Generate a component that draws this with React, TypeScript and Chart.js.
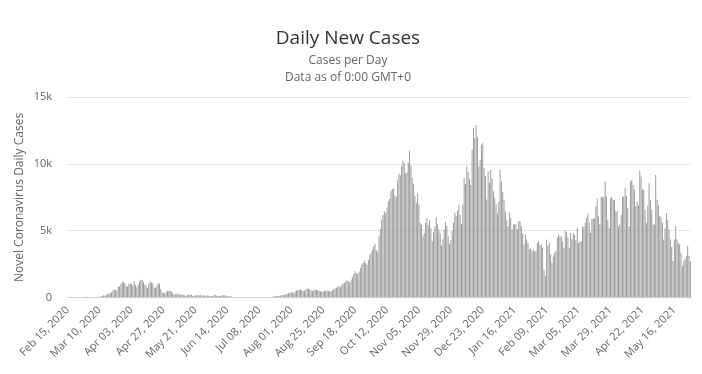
import React, { useEffect, useRef } from "react";
import { Chart, registerables } from "chart.js";

Chart.register(...registerables);

const startDate = "2020-02-15";
const tickEvery = 24;

const feb2020 = [0, 0, 0, 0, 0, 0, 0, 0, 0, 0, 0, 0, 1, 1, 4];
const mar2020 = [3, 8, 6, 20, 44, 46, 60, 77, 56, 61, 121, 111, 190, 155, 176, 278, 292, 346, 409, 534, 637, 573, 545, 811, 852, 1019, 1172, 1159, 1104, 884, 845];
const apr2020 = [1019, 1083, 1026, 904, 1224, 952, 777, 969, 1213, 1335, 1316, 1174, 964, 868, 734, 1061, 1235, 1140, 1066, 750, 729, 887, 1066, 1066, 655, 400, 380, 320, 445, 515];
const may2020 = [475, 514, 445, 335, 232, 253, 232, 319, 228, 218, 240, 192, 178, 123, 227, 196, 224, 199, 125, 138, 186, 165, 211, 162, 209, 155, 184, 140, 163, 167, 136];
const jun2020 = [113, 107, 137, 192, 218, 144, 146, 122, 107, 189, 186, 177, 153, 116, 112, 120, 98, 0, 0, 0, 0, 0, 0, 0, 0, 0, 0, 0, 0, 0];
const jul2020 = [0, 0, 0, 0, 0, 0, 0, 0, 0, 0, 0, 0, 0, 0, 0, 0, 0, 80, 100, 120, 110, 140, 130, 160, 180, 200, 230, 250, 290, 340, 380];
const aug2020 = [420, 390, 350, 460, 520, 580, 590, 600, 560, 480, 520, 640, 690, 670, 620, 560, 510, 540, 610, 580, 540, 520, 480, 450, 470, 520, 510, 550, 500, 470, 480];
const sep2020 = [560, 620, 700, 750, 820, 880, 780, 950, 1080, 1100, 1250, 1300, 1230, 1150, 1350, 1540, 1800, 1980, 1850, 1780, 1950, 2200, 2460, 2610, 2780, 2600, 2470, 2800, 3170, 3390];
const oct2020 = [3580, 3830, 4040, 3560, 3400, 4590, 5160, 5830, 6180, 6470, 6320, 6750, 7220, 7390, 7980, 8120, 8180, 7650, 7540, 8760, 9280, 9160, 9840, 10230, 10050, 9300, 9390, 10100, 11000, 9880, 8950];
const nov2020 = [8500, 7600, 7100, 7800, 6950, 5600, 5450, 4600, 4850, 5600, 5960, 5400, 5800, 5200, 4200, 4900, 5300, 6000, 5500, 5100, 4800, 3900, 4400, 5100, 5640, 5400, 4600, 4000, 4300, 5000];
const dec2020 = [5600, 6360, 6100, 6500, 6970, 6200, 5500, 7000, 8960, 8500, 9830, 9400, 8900, 8440, 11060, 12670, 11930, 12920, 12030, 9830, 10320, 11440, 11560, 9700, 9100, 7350, 9460, 8600, 9580, 8900, 7970];
const jan2021 = [7475, 7000, 6300, 7200, 9580, 8700, 7900, 7330, 6460, 5800, 5350, 6400, 5960, 5100, 5470, 5500, 5470, 5100, 5720, 5720, 5350, 4800, 3990, 4730, 4350, 4100, 3610, 3700, 3490, 3600, 3450];
const feb2021 = [3490, 4100, 4230, 3900, 3990, 3740, 2130, 1630, 4350, 3900, 4100, 3240, 2620, 3100, 3360, 3500, 4480, 4730, 4600, 4600, 4200, 3740, 5020, 4900, 4500, 3740, 4850, 4400];
const mar2021 = [4850, 4700, 4300, 5220, 4100, 4230, 4230, 5300, 5300, 5600, 6000, 6290, 5600, 4850, 5900, 5900, 5950, 6830, 7450, 6090, 5470, 7570, 7500, 7570, 8690, 7570, 5840, 5200, 7400, 7570, 7330];
const apr2021 = [7330, 6460, 6460, 5350, 5470, 6210, 7570, 7570, 8190, 7600, 6710, 5350, 8690, 8810, 8440, 8070, 6830, 7200, 6900, 9500, 9060, 8070, 8070, 6580, 5600, 6900, 8560, 7330, 6580, 5470];
const may2021 = [5470, 9180, 7330, 6960, 6090, 6000, 5600, 4350, 5200, 6330, 5840, 5100, 4350, 3800, 2750, 4350, 5350, 4350, 4100, 3990, 3370, 2380, 2750, 2900, 3120, 3860, 3120, 2750];

const dailyCases = [
  ...feb2020, ...mar2020, ...apr2020, ...may2020, ...jun2020, ...jul2020,
  ...aug2020, ...sep2020, ...oct2020, ...nov2020, ...dec2020,
  ...jan2021, ...feb2021, ...mar2021, ...apr2021, ...may2021,
];

const monthNames = ["Jan", "Feb", "Mar", "Apr", "May", "Jun", "Jul", "Aug", "Sep", "Oct", "Nov", "Dec"];

function buildLabels(n: number): string[] {
  const out: string[] = [];
  const d0 = new Date(startDate + "T00:00:00Z");
  for (let i = 0; i < n; i++) {
    const d = new Date(d0.getTime() + i * 86400000);
    const dd = String(d.getUTCDate()).padStart(2, "0");
    out.push(`${monthNames[d.getUTCMonth()]} ${dd}, ${d.getUTCFullYear()}`);
  }
  return out;
}

const categories = buildLabels(dailyCases.length);

const FONT = "'Open Sans', 'DejaVu Sans', sans-serif";

export default function App() {
  const ref = useRef<HTMLCanvasElement | null>(null);
  useEffect(() => {
    if (!ref.current) return;
    const chart = new Chart(ref.current, {
      type: "bar",
      data: {
        labels: categories,
        datasets: [
          {
            label: "Daily Cases",
            data: dailyCases,
            backgroundColor: "#999999",
            borderWidth: 0,
            categoryPercentage: 1,
            barPercentage: 0.72,
          },
        ],
      },
      options: {
        animation: false,
        responsive: false,
        maintainAspectRatio: false,
        layout: { padding: { left: 5, right: 11, top: 0, bottom: 7 } },
        plugins: {
          legend: { display: false },
          tooltip: { enabled: false },
          title: {
            display: true,
            text: "Daily New Cases",
            color: "#333333",
            font: { family: FONT, size: 19, weight: "normal" },
            padding: { top: 27, bottom: 3 },
          },
          subtitle: {
            display: true,
            text: ["Cases per Day", "Data as of 0:00 GMT+0"],
            color: "#666666",
            font: { family: FONT, size: 12, weight: "normal", lineHeight: 1.35 },
            padding: { top: 0, bottom: 12 },
          },
        },
        scales: {
          x: {
            type: "category",
            grid: { display: false, drawTicks: false },
            border: { display: true, color: "#ccd6eb", width: 1 },
            afterFit: (scale: any) => {
              scale.paddingLeft = 0;
              scale.paddingRight = 0;
            },
            ticks: {
              autoSkip: false,
              maxRotation: 45,
              minRotation: 45,
              padding: 6,
              color: "#666666",
              font: { family: FONT, size: 11 },
              callback: (_v: any, i: number) => (i % tickEvery === 0 ? categories[i] : ""),
            },
          },
          y: {
            min: 0,
            max: 15000,
            grid: { color: "#e6e6e6", drawTicks: false },
            border: { display: false },
            afterFit: (scale: any) => {
              scale.width = 62;
            },
            ticks: {
              stepSize: 5000,
              padding: 15,
              color: "#666666",
              font: { family: FONT, size: 11 },
              callback: (v: any) => (Number(v) === 0 ? "0" : Number(v) / 1000 + "k"),
            },
            title: {
              display: true,
              text: "Novel Coronavirus Daily Cases",
              color: "#666666",
              font: { family: FONT, size: 12 },
              padding: { top: 7, bottom: 6 },
            },
          },
        },
      },
    });
    return () => chart.destroy();
  }, []);
  return (
    <div style={{ position: "absolute", left: 0, top: 0, width: 702, height: 374, background: "#fff" }}>
      <canvas ref={ref} width={702} height={374} style={{ width: 702, height: 374 }} />
    </div>
  );
}
